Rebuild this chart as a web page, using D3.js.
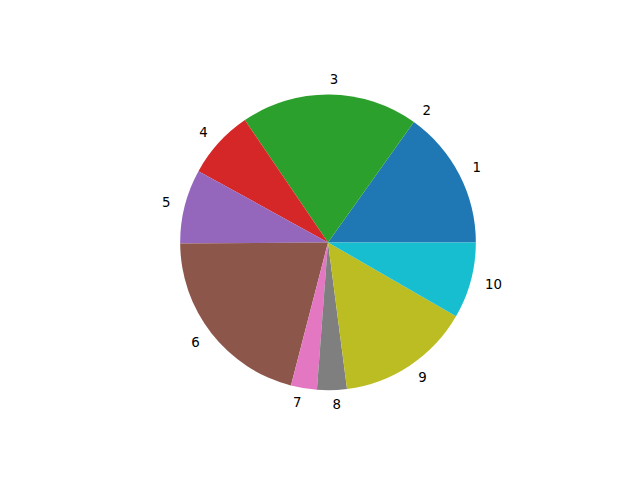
<!DOCTYPE html>
<html><head><meta charset="utf-8">
<script src="https://cdn.jsdelivr.net/npm/d3@7"></script>
<style>body{margin:0;background:#fff}svg{display:block}</style>
</head><body>
<svg id="c" width="640" height="480"></svg>
<script>
const labels = ["1","2","3","4","5","6","7","8","9","10"];
const values = [54.5, 0, 69.7, 27, 29.2, 75.1, 10.2, 11.7, 52.6, 30];
const colors = ["#1f77b4","#ff7f0e","#2ca02c","#d62728","#9467bd","#8c564b","#e377c2","#7f7f7f","#bcbd22","#17becf"];

const svg = d3.select("#c");
const cx = 328, cy = 242.4, R = 147.84;
const total = d3.sum(values);
const ang = d3.scaleLinear().domain([0, total]).range([0, 2*Math.PI]);
let cum = 0;
const slices = values.map((v,i)=>{const s=cum; cum+=v; return {i, a0:ang(s), a1:ang(cum)};});
const g = svg.append("g").attr("transform",`translate(${cx},${cy})`);
// matplotlib angle: counterclockwise from +x. d3.arc: clockwise from 12 o'clock.
const arc = d3.arc().innerRadius(0).outerRadius(R);
slices.forEach(s=>{
  if (s.a1 - s.a0 <= 0) return;
  g.append("path")
   .attr("d", arc({startAngle: Math.PI/2 - s.a1, endAngle: Math.PI/2 - s.a0}))
   .attr("fill", colors[s.i]);
});
slices.forEach(s=>{
  const m = (s.a0+s.a1)/2;
  const x = 1.1*R*Math.cos(m), y = -1.1*R*Math.sin(m);
  g.append("text").attr("x",x).attr("y",y)
   .attr("text-anchor", x>0 ? "start":"end")
   .attr("dominant-baseline","central")
   .attr("font-family","DejaVu Sans").attr("font-size","13.33px")
   .text(labels[s.i]);
});
</script>
</body></html>
